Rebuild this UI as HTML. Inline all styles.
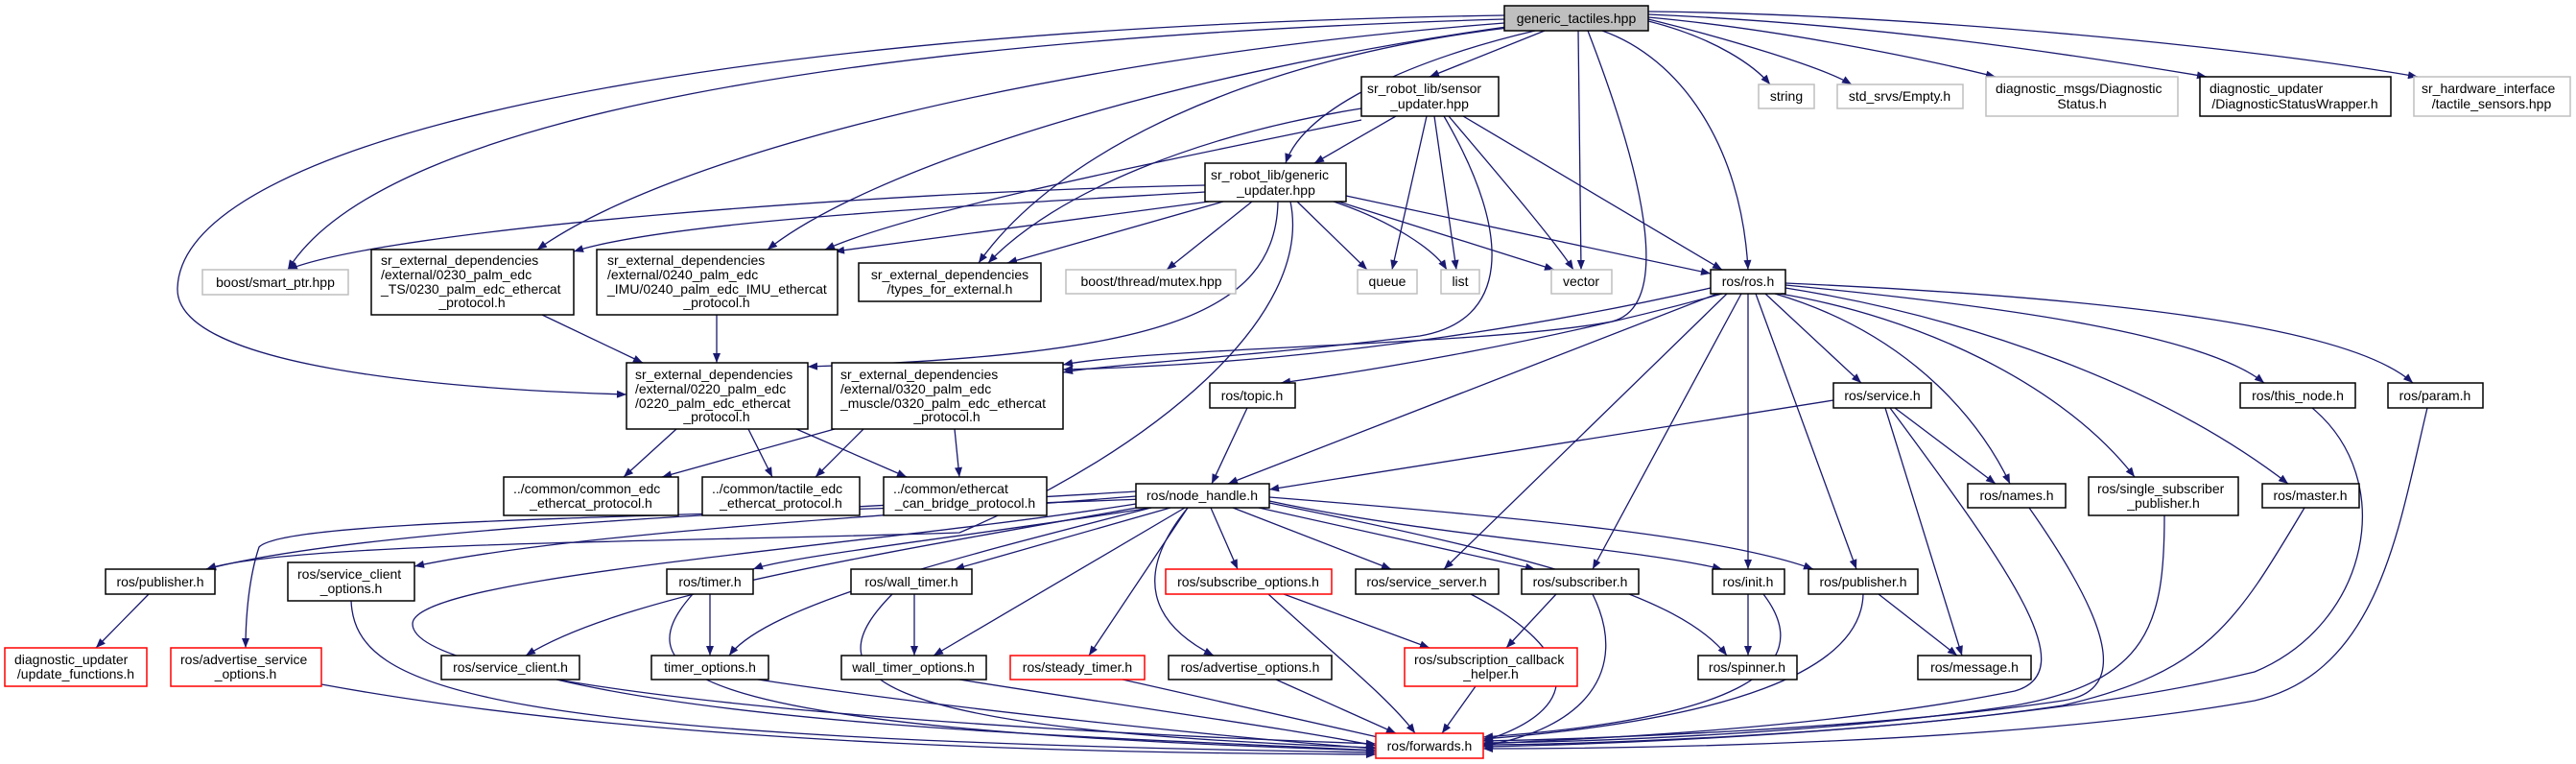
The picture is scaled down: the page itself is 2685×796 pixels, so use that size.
<!DOCTYPE html>
<html><head><meta charset="utf-8"><style>
html,body{margin:0;padding:0;background:#fff;width:2685px;height:796px;overflow:hidden}
svg{display:block}
text{font-family:"Liberation Sans",sans-serif;font-size:14px;fill:#000}
.e{fill:none;stroke:#191970;stroke-width:1.3}
.b{fill:#fff;stroke:#000;stroke-width:1.5}
.g{fill:#fff;stroke:#bfbfbf;stroke-width:1.5}
.r{fill:#fff;stroke:#ff0000;stroke-width:1.5}
</style></head><body>
<svg width="2685" height="796" viewBox="0 0 2685 796" xmlns="http://www.w3.org/2000/svg">
<defs><marker id="a" viewBox="0 0 10 8" refX="10" refY="4" markerWidth="11" markerHeight="8" markerUnits="userSpaceOnUse" orient="auto"><path d="M0 0L10 4L0 8z" fill="#191970"/></marker></defs>
<g class="e" marker-end="url(#a)">
<path d="M1610 32L1490 80"/>
<path d="M1600 32C1480 60 1360 110 1340 170"/>
<path d="M1580 28C1300 60 1100 160 1020 274"/>
<path d="M1568 20C900 40 400 120 300 281"/>
<path d="M1568 24C1100 60 700 160 560 260"/>
<path d="M1570 28C1200 80 900 180 800 260"/>
<path d="M1568 16C700 30 190 150 185 300C182 380 450 405 653 411"/>
<path d="M1645 32L1648 281"/>
<path d="M1670 32C1750 60 1815 150 1822 281"/>
<path d="M1655 32C1720 200 1740 320 1680 335C1550 360 1200 362 1108 380"/>
<path d="M1718 22C1790 40 1830 70 1845 88"/>
<path d="M1718 20C1800 40 1900 70 1930 88"/>
<path d="M1718 18C1850 30 2000 60 2080 80"/>
<path d="M1718 15C1950 25 2150 55 2300 80"/>
<path d="M1718 12C2000 15 2350 50 2520 80"/>
<path d="M1455 121L1370 170"/>
<path d="M1419 113C1250 140 1100 200 1030 274"/>
<path d="M1419 125C1200 170 950 220 860 260"/>
<path d="M1487 121L1451 281"/>
<path d="M1495 121L1518 281"/>
<path d="M1510 121C1560 180 1620 250 1640 281"/>
<path d="M1525 121L1795 281"/>
<path d="M1505 121C1580 250 1570 335 1480 350C1300 372 1150 380 1108 388"/>
<path d="M1256 193C900 200 400 240 300 281"/>
<path d="M1256 200C1000 215 700 230 598 262"/>
<path d="M1260 210L870 262"/>
<path d="M1275 210L1050 274"/>
<path d="M1305 210L1216 281"/>
<path d="M1352 210L1425 281"/>
<path d="M1390 210C1450 230 1495 260 1508 281"/>
<path d="M1395 210L1620 281"/>
<path d="M1403 204L1783 285"/>
<path d="M1332 210C1330 330 1200 370 842 382"/>
<path d="M1345 210C1370 330 1200 470 1000 555C700 565 300 565 215 593"/>
<path d="M1783 300C1650 330 1400 378 1108 385"/>
<path d="M565 328L670 378"/>
<path d="M747 328L747 378"/>
<path d="M705 447L650 497"/>
<path d="M780 447L805 497"/>
<path d="M830 447L945 497"/>
<path d="M870 447L690 497"/>
<path d="M900 447L850 497"/>
<path d="M995 447L1000 497"/>
<path d="M1184 512C900 530 400 545 215 593"/>
<path d="M1184 517C900 540 600 555 432 590"/>
<path d="M1190 520C700 540 300 540 270 570C260 600 256 640 256 675"/>
<path d="M1200 529C1000 560 820 580 785 593"/>
<path d="M1220 529L995 593"/>
<path d="M1262 529L1290 593"/>
<path d="M1285 529L1450 593"/>
<path d="M1312 529L1600 593"/>
<path d="M1323 522C1500 560 1700 570 1795 593"/>
<path d="M1323 518C1600 540 1800 560 1890 593"/>
<path d="M1185 529C900 580 650 620 548 683"/>
<path d="M1200 529C1000 580 800 630 760 683"/>
<path d="M1235 529L973 683"/>
<path d="M1238 529L1135 683"/>
<path d="M1238 529C1180 600 1200 650 1265 683"/>
<path d="M1323 524C1600 580 1750 620 1800 683"/>
<path d="M1184 525C900 570 430 600 430 650C430 720 1000 760 1434 775"/>
<path d="M1300 425L1263 504"/>
<path d="M1795 306C1600 360 1400 390 1335 399"/>
<path d="M1790 306L1280 504"/>
<path d="M1840 306L1940 399"/>
<path d="M1800 306L1505 593"/>
<path d="M1815 306L1660 593"/>
<path d="M1822 306L1822 593"/>
<path d="M1830 306L1935 593"/>
<path d="M1850 306C2000 350 2070 450 2095 504"/>
<path d="M1855 306C2000 330 2150 400 2225 497"/>
<path d="M1861 300C2050 330 2250 400 2385 504"/>
<path d="M1861 297C2100 320 2300 350 2360 399"/>
<path d="M1861 295C2200 310 2450 340 2515 399"/>
<path d="M1911 417L1323 510"/>
<path d="M1975 425L2080 504"/>
<path d="M1965 425L2045 683"/>
<path d="M1970 425C2100 600 2170 700 2100 720C1900 760 1650 770 1546 775"/>
<path d="M2410 425C2500 500 2470 650 2350 700C2100 760 1700 775 1546 778"/>
<path d="M2530 425C2500 550 2480 700 2350 730C2100 775 1700 780 1546 780"/>
<path d="M2115 529C2200 650 2220 720 2150 730C1950 760 1650 770 1546 772"/>
<path d="M2256 537C2256 650 2240 710 2100 735C1900 765 1650 773 1546 774"/>
<path d="M2402 529C2330 650 2300 700 2150 735C1950 765 1650 776 1546 776"/>
<path d="M1958 619L2040 683"/>
<path d="M1942 619C1940 700 1800 750 1546 770"/>
<path d="M1822 619L1822 683"/>
<path d="M1838 619C1900 700 1800 750 1546 768"/>
<path d="M1622 619L1570 675"/>
<path d="M1660 619C1700 700 1650 760 1546 777"/>
<path d="M1533 619C1650 680 1650 740 1546 772"/>
<path d="M1338 619L1490 675"/>
<path d="M1322 619C1400 690 1450 730 1475 764"/>
<path d="M1538 715L1503 764"/>
<path d="M1330 708L1455 764"/>
<path d="M1170 708L1445 770"/>
<path d="M1000 708C1200 740 1350 760 1434 777"/>
<path d="M790 708C1000 740 1300 770 1434 780"/>
<path d="M740 619L740 683"/>
<path d="M722 619C650 700 700 760 1434 782"/>
<path d="M953 619L953 683"/>
<path d="M930 619C850 700 880 760 1434 779"/>
<path d="M580 708C800 760 1200 770 1434 782"/>
<path d="M366 626C370 720 500 770 1434 784"/>
<path d="M335 713C700 780 1200 785 1434 786"/>
<path d="M155 619L100 675"/>
</g>
<!-- nodes -->
<rect x="1568" y="6" width="150" height="26" fill="#bfbfbf" stroke="#000" stroke-width="1.5"/><text x="1643" y="24" text-anchor="middle">generic_tactiles.hpp</text>
<rect class="b" x="1419" y="80" width="143" height="41"/><text x="1425" y="97">sr_robot_lib/sensor</text><text x="1490" y="113" text-anchor="middle">_updater.hpp</text>
<rect class="b" x="1256" y="170" width="147" height="40"/><text x="1262" y="187">sr_robot_lib/generic</text><text x="1330" y="203" text-anchor="middle">_updater.hpp</text>
<rect class="g" x="211" y="281" width="152" height="26"/><text x="287" y="299" text-anchor="middle">boost/smart_ptr.hpp</text>
<rect class="b" x="387" y="260" width="211" height="68"/><text x="397" y="276">sr_external_dependencies</text><text x="397" y="291">/external/0230_palm_edc</text><text x="397" y="306">_TS/0230_palm_edc_ethercat</text><text x="492" y="320" text-anchor="middle">_protocol.h</text>
<rect class="b" x="622" y="260" width="251" height="68"/><text x="633" y="276">sr_external_dependencies</text><text x="633" y="291">/external/0240_palm_edc</text><text x="633" y="306">_IMU/0240_palm_edc_IMU_ethercat</text><text x="747" y="320" text-anchor="middle">_protocol.h</text>
<rect class="b" x="895" y="274" width="190" height="40"/><text x="990" y="291" text-anchor="middle">sr_external_dependencies</text><text x="990" y="306" text-anchor="middle">/types_for_external.h</text>
<rect class="g" x="1111" y="281" width="177" height="25"/><text x="1200" y="298" text-anchor="middle">boost/thread/mutex.hpp</text>
<rect class="g" x="1415" y="281" width="62" height="25"/><text x="1446" y="298" text-anchor="middle">queue</text>
<rect class="g" x="1502" y="281" width="40" height="25"/><text x="1522" y="298" text-anchor="middle">list</text>
<rect class="g" x="1617" y="281" width="63" height="25"/><text x="1648" y="298" text-anchor="middle">vector</text>
<rect class="b" x="1783" y="281" width="78" height="25"/><text x="1822" y="298" text-anchor="middle">ros/ros.h</text>
<rect class="g" x="1833" y="88" width="58" height="25"/><text x="1862" y="105" text-anchor="middle">string</text>
<rect class="g" x="1915" y="88" width="131" height="25"/><text x="1980" y="105" text-anchor="middle">std_srvs/Empty.h</text>
<rect class="g" x="2070" y="80" width="200" height="41"/><text x="2080" y="97">diagnostic_msgs/Diagnostic</text><text x="2170" y="113" text-anchor="middle">Status.h</text>
<rect class="b" x="2293" y="80" width="199" height="41"/><text x="2303" y="97">diagnostic_updater</text><text x="2392" y="113" text-anchor="middle">/DiagnosticStatusWrapper.h</text>
<rect class="g" x="2516" y="80" width="163" height="41"/><text x="2524" y="97">sr_hardware_interface</text><text x="2597" y="113" text-anchor="middle">/tactile_sensors.hpp</text>
<rect class="b" x="653" y="378" width="189" height="69"/><text x="662" y="395">sr_external_dependencies</text><text x="662" y="410">/external/0220_palm_edc</text><text x="662" y="425">/0220_palm_edc_ethercat</text><text x="747" y="439" text-anchor="middle">_protocol.h</text>
<rect class="b" x="867" y="378" width="241" height="69"/><text x="876" y="395">sr_external_dependencies</text><text x="876" y="410">/external/0320_palm_edc</text><text x="876" y="425">_muscle/0320_palm_edc_ethercat</text><text x="987" y="439" text-anchor="middle">_protocol.h</text>
<rect class="b" x="525" y="497" width="182" height="40"/><text x="535" y="514">../common/common_edc</text><text x="616" y="529" text-anchor="middle">_ethercat_protocol.h</text>
<rect class="b" x="732" y="497" width="164" height="40"/><text x="742" y="514">../common/tactile_edc</text><text x="814" y="529" text-anchor="middle">_ethercat_protocol.h</text>
<rect class="b" x="921" y="497" width="170" height="40"/><text x="931" y="514">../common/ethercat</text><text x="1006" y="529" text-anchor="middle">_can_bridge_protocol.h</text>
<rect class="b" x="1261" y="399" width="89" height="26"/><text x="1305" y="417" text-anchor="middle">ros/topic.h</text>
<rect class="b" x="1911" y="399" width="102" height="26"/><text x="1962" y="417" text-anchor="middle">ros/service.h</text>
<rect class="b" x="2335" y="399" width="120" height="26"/><text x="2395" y="417" text-anchor="middle">ros/this_node.h</text>
<rect class="b" x="2489" y="399" width="99" height="26"/><text x="2538" y="417" text-anchor="middle">ros/param.h</text>
<rect class="b" x="1184" y="504" width="139" height="25"/><text x="1253" y="521" text-anchor="middle">ros/node_handle.h</text>
<rect class="b" x="2051" y="504" width="102" height="25"/><text x="2102" y="521" text-anchor="middle">ros/names.h</text>
<rect class="b" x="2177" y="497" width="156" height="40"/><text x="2186" y="514">ros/single_subscriber</text><text x="2255" y="529" text-anchor="middle">_publisher.h</text>
<rect class="b" x="2358" y="504" width="101" height="25"/><text x="2408" y="521" text-anchor="middle">ros/master.h</text>
<rect class="b" x="110" y="593" width="114" height="26"/><text x="167" y="611" text-anchor="middle">ros/publisher.h</text>
<rect class="b" x="300" y="586" width="132" height="40"/><text x="310" y="603">ros/service_client</text><text x="366" y="618" text-anchor="middle">_options.h</text>
<rect class="b" x="695" y="593" width="90" height="26"/><text x="740" y="611" text-anchor="middle">ros/timer.h</text>
<rect class="b" x="887" y="593" width="126" height="26"/><text x="950" y="611" text-anchor="middle">ros/wall_timer.h</text>
<rect class="r" x="1215" y="593" width="173" height="26"/><text x="1301" y="611" text-anchor="middle">ros/subscribe_options.h</text>
<rect class="b" x="1413" y="593" width="149" height="26"/><text x="1487" y="611" text-anchor="middle">ros/service_server.h</text>
<rect class="b" x="1586" y="593" width="122" height="26"/><text x="1647" y="611" text-anchor="middle">ros/subscriber.h</text>
<rect class="b" x="1785" y="593" width="75" height="26"/><text x="1822" y="611" text-anchor="middle">ros/init.h</text>
<rect class="b" x="1885" y="593" width="114" height="26"/><text x="1942" y="611" text-anchor="middle">ros/publisher.h</text>
<rect class="r" x="5" y="675" width="148" height="40"/><text x="15" y="692">diagnostic_updater</text><text x="79" y="707" text-anchor="middle">/update_functions.h</text>
<rect class="r" x="178" y="675" width="157" height="40"/><text x="188" y="692">ros/advertise_service</text><text x="256" y="707" text-anchor="middle">_options.h</text>
<rect class="b" x="460" y="683" width="144" height="25"/><text x="532" y="700" text-anchor="middle">ros/service_client.h</text>
<rect class="b" x="679" y="683" width="122" height="25"/><text x="740" y="700" text-anchor="middle">timer_options.h</text>
<rect class="b" x="877" y="683" width="151" height="25"/><text x="952" y="700" text-anchor="middle">wall_timer_options.h</text>
<rect class="r" x="1053" y="683" width="140" height="25"/><text x="1123" y="700" text-anchor="middle">ros/steady_timer.h</text>
<rect class="b" x="1218" y="683" width="170" height="25"/><text x="1303" y="700" text-anchor="middle">ros/advertise_options.h</text>
<rect class="r" x="1464" y="675" width="180" height="40"/><text x="1474" y="692">ros/subscription_callback</text><text x="1554" y="707" text-anchor="middle">_helper.h</text>
<rect class="b" x="1770" y="683" width="103" height="25"/><text x="1821" y="700" text-anchor="middle">ros/spinner.h</text>
<rect class="b" x="1999" y="683" width="118" height="25"/><text x="2058" y="700" text-anchor="middle">ros/message.h</text>
<rect class="r" x="1434" y="764" width="112" height="26"/><text x="1490" y="782" text-anchor="middle">ros/forwards.h</text>
</svg>
</body></html>
